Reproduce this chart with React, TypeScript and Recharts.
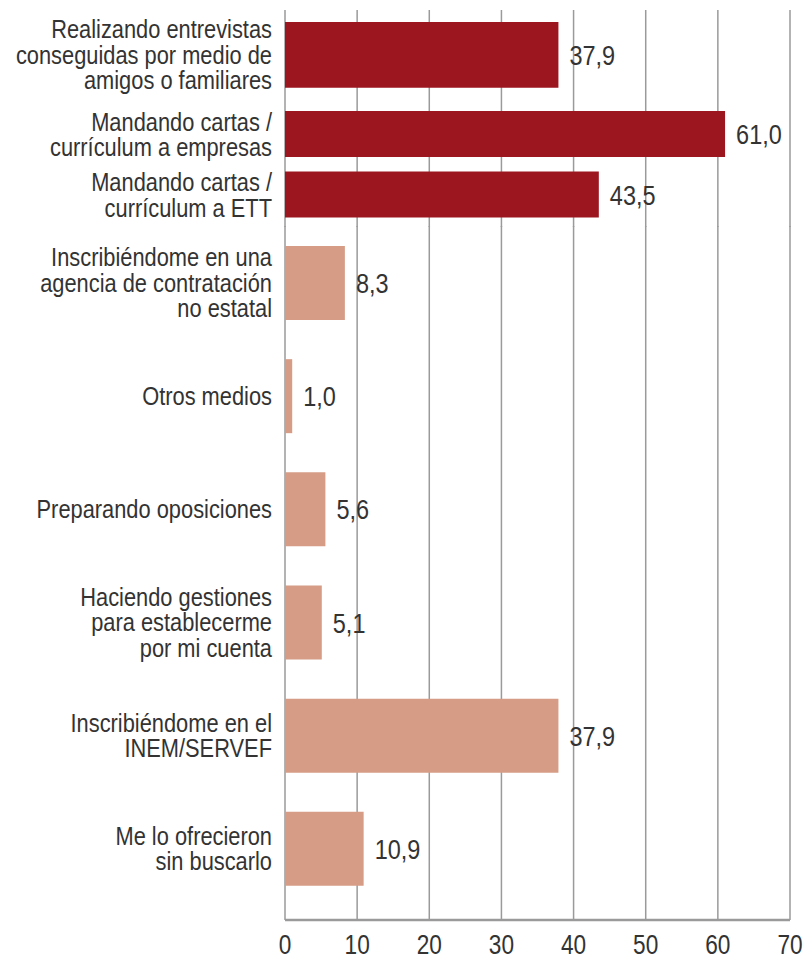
import { BarChart, Bar, XAxis, YAxis, CartesianGrid, Cell, LabelList } from "recharts"

// Formas de búsqueda de empleo (%)
const categories = [
    "Realizando entrevistas\nconseguidas por medio de\namigos o familiares",
    "Mandando cartas /\ncurrículum a empresas",
    "Mandando cartas /\ncurrículum a ETT",
    "Inscribiéndome en una\nagencia de contratación\nno estatal",
    "Otros medios",
    "Preparando oposiciones",
    "Haciendo gestiones\npara establecerme\npor mi cuenta",
    "Inscribiéndome en el\nINEM/SERVEF",
    "Me lo ofrecieron\nsin buscarlo",
]
const values = [37.9, 61.0, 43.5, 8.3, 1.0, 5.6, 5.1, 37.9, 10.9]
// true = búsqueda activa con empresas (barras oscuras)
const direct = [true, true, true, false, false, false, false, false, false]
const xTicks = [0, 10, 20, 30, 40, 50, 60, 70]

const data = categories.map((name, i) => ({ name, value: values[i], direct: direct[i] }))

// Arial Narrow no está: Liberation Sans comprimida horizontalmente
const FONT = "'Liberation Sans', Arial, sans-serif"
const NARROW = 0.84
const DARK = "#9c1620"
const LIGHT = "#d69c86"
const TEXT = "#333333"
const GRID = "#9a9a9a"
const LINE_H = 25.5
const FS = 26

function CategoryTick(props: any) {
    const { x, y, payload } = props
    const lines: string[] = String(payload.value).split("\n")
    const firstDy = -((lines.length - 1) / 2) * LINE_H + 9
    return (
        <g transform={`translate(${x},${y}) scale(${NARROW},1)`}>
            <text x={0} y={0} textAnchor="end" fontSize={FS} fill={TEXT} fontFamily={FONT}>
                {lines.map((l, i) => (
                    <tspan key={i} x={0} dy={i === 0 ? firstDy : LINE_H}>{l}</tspan>
                ))}
            </text>
        </g>
    )
}

function AxisTick(props: any) {
    const { x, y, payload } = props
    return (
        <g transform={`translate(${x},${y}) scale(${NARROW},1)`}>
            <text x={0} y={0} dy={20} textAnchor="middle" fontSize={27} fill={TEXT} fontFamily={FONT}>
                {payload.value}
            </text>
        </g>
    )
}

const fmt = (v: any) => Number(v).toFixed(1).replace(".", ",")

function ValueLabel(props: any) {
    const { x, y, width, height, value } = props
    return (
        <g transform={`translate(${x + width + 11},${y + height / 2}) scale(${NARROW},1)`}>
            <text x={0} y={0} dy={10} textAnchor="start" fontSize={28} fill={TEXT} fontFamily={FONT}>
                {fmt(value)}
            </text>
        </g>
    )
}

const NoTick = () => <g />

interface BlockProps {
    start: number
    end: number
    top: number
    height: number
    marginTop: number
    barSize: number
    padTop: number
    padBottom: number
    showAxis?: boolean
}

function Block({ start, end, top, height, marginTop, barSize, padTop, padBottom, showAxis }: BlockProps) {
    const rows = data.slice(start, end)
    return (
        <div style={{ position: "absolute", left: 0, top }}>
            <BarChart
                width={808}
                height={height}
                data={rows}
                layout="vertical"
                margin={{ top: marginTop, right: 18, bottom: 0, left: 0 }}
            >
                <CartesianGrid horizontal={false} stroke={GRID} strokeWidth={1.5} />
                <XAxis
                    type="number"
                    domain={[0, 70]}
                    ticks={xTicks}
                    interval={0}
                    height={showAxis ? 38 : 1}
                    tick={showAxis ? <AxisTick /> : <NoTick />}
                    tickLine={false}
                    tickSize={0}
                    tickMargin={14}
                    axisLine={showAxis ? { stroke: GRID, strokeWidth: 2.5 } : false}
                />
                <YAxis
                    type="category"
                    dataKey="name"
                    width={285}
                    interval={0}
                    tickLine={false}
                    tickSize={0}
                    tickMargin={13}
                    axisLine={false}
                    padding={{ top: padTop, bottom: padBottom }}
                    tick={<CategoryTick />}
                />
                <Bar dataKey="value" barSize={barSize} isAnimationActive={false}>
                    {rows.map((r, i) => (
                        <Cell key={`cell-${i}`} fill={r.direct ? DARK : LIGHT} />
                    ))}
                    <LabelList dataKey="value" content={<ValueLabel />} />
                </Bar>
            </BarChart>
        </div>
    )
}

export default function App() {
    return (
        <div style={{ position: "fixed", left: 0, top: 0, width: 808, height: 958, background: "#fff", fontFamily: FONT }}>
            <Block start={0} end={1} top={0} height={103} marginTop={10} barSize={74} padTop={8} padBottom={11} />
            <Block start={1} end={3} top={102} height={126} marginTop={0} barSize={46} padTop={2} padBottom={2} />
            <Block start={3} end={9} top={226} height={732} marginTop={0} barSize={74} padTop={0} padBottom={15} showAxis />
        </div>
    )
}
